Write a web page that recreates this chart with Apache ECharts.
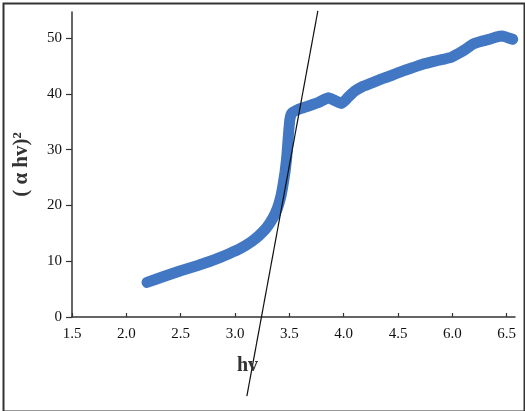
<!DOCTYPE html>
<html>
<head>
<meta charset="utf-8">
<script src="https://cdn.jsdelivr.net/npm/echarts@6/dist/echarts.min.js"></script>
<style>
html,body{margin:0;padding:0;background:#fff;}
#c{width:525px;height:411px;}
</style>
</head>
<body>
<div id="c"></div>
<script>
// x positions are positions along the drawn axis (ticks every 0.5 from 1.5)
var xTickLabels = ['1.5','2.0','2.5','3.0','3.5','4.0','4.5','6.0','6.5'];
var yTicks = [0, 10, 20, 30, 40, 50];
var curveX = [2.19, 2.35, 2.5, 2.65, 2.8, 2.95, 3.05, 3.15, 3.22, 3.29, 3.35, 3.39, 3.42, 3.44, 3.46, 3.475, 3.485, 3.495, 3.505, 3.52, 3.58, 3.67, 3.77, 3.86, 3.92, 3.98, 4.04, 4.10, 4.17, 4.26, 4.35, 4.45, 4.54, 4.63, 4.72, 4.82, 4.91, 4.98, 5.06, 5.12, 5.185, 5.26, 5.34, 5.40, 5.46, 5.51, 5.555];
var curveY = [6.2, 7.3, 8.3, 9.2, 10.2, 11.4, 12.3, 13.5, 14.6, 16.0, 17.8, 19.5, 21.5, 23.5, 26.0, 28.5, 31.0, 33.5, 35.5, 36.5, 37.2, 37.8, 38.5, 39.3, 38.8, 38.3, 39.4, 40.5, 41.3, 42.0, 42.7, 43.4, 44.1, 44.7, 45.3, 45.8, 46.2, 46.5, 47.3, 48.0, 48.9, 49.4, 49.8, 50.2, 50.4, 50.1, 49.8];
var tangentX = [3.109, 3.762];
var tangentY = [-14.2, 54.9];

var curve = curveX.map(function (x, i) { return [x, curveY[i]]; });
var tangent = tangentX.map(function (x, i) { return [x, tangentY[i]]; });

var serif = '"Liberation Serif", "DejaVu Serif", serif';
var chart = echarts.init(document.getElementById('c'), null, {renderer: 'canvas'});
chart.setOption({
  animation: false,
  backgroundColor: '#fff',
  grid: {left: 72, right: 10, top: 12, bottom: 94, containLabel: false},
  xAxis: {
    type: 'value',
    min: 1.5,
    max: 5.576,
    interval: 0.5,
    splitLine: {show: false},
    axisLine: {lineStyle: {color: '#333', width: 1.5}},
    axisTick: {inside: true, length: 4, lineStyle: {color: '#333', width: 1.2}},
    axisLabel: {
      color: '#111', fontFamily: serif, fontSize: 15, margin: 10,
      showMaxLabel: false,
      formatter: function (v) {
        var i = Math.round((v - 1.5) / 0.5);
        return xTickLabels[i] !== undefined ? xTickLabels[i] : '';
      }
    }
  },
  yAxis: {
    type: 'value',
    min: yTicks[0],
    max: 54.7,
    interval: yTicks[1] - yTicks[0],
    splitLine: {show: false},
    axisLine: {show: true, lineStyle: {color: '#333', width: 1.5}},
    axisTick: {show: true, inside: false, length: 6, lineStyle: {color: '#333', width: 1.2}},
    axisLabel: {color: '#111', fontFamily: serif, fontSize: 15, margin: 10, showMaxLabel: false},
    name: '( α hv)²',
    nameLocation: 'middle',
    nameGap: 40,
    nameRotate: 90,
    nameTextStyle: {color: '#333', fontFamily: serif, fontSize: 21, fontWeight: 'bold'}
  },
  graphic: [
    {type: 'rect', left: 1, top: 1, shape: {width: 521, height: 408}, style: {fill: 'none', stroke: '#333', lineWidth: 2}, z: 100},
    {type: 'text', left: 237, top: 356, style: {text: 'hv', font: 'bold 20px ' + serif, fill: '#333'}, z: 100}
  ],
  series: [
    {
      type: 'line',
      data: curve,
      showSymbol: false,
      smooth: 0.15,
      lineStyle: {color: '#4277c3', width: 11, cap: 'round', join: 'round'},
      z: 2
    },
    {
      type: 'line',
      data: tangent,
      showSymbol: false,
      clip: false,
      lineStyle: {color: '#111', width: 1.2},
      z: 3
    }
  ]
});
</script>
</body>
</html>
